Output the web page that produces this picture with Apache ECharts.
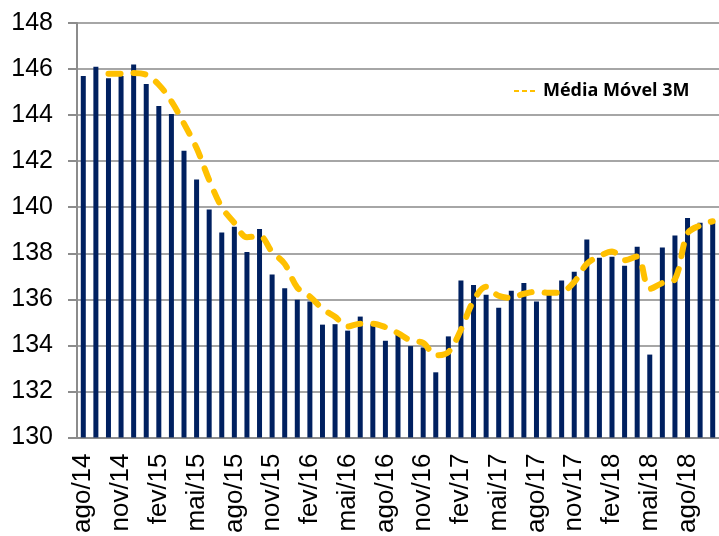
<!DOCTYPE html>
<html>
<head>
<meta charset="utf-8">
<script src="https://cdn.jsdelivr.net/npm/echarts@6/dist/echarts.min.js"></script>
<style>
html,body{margin:0;padding:0;background:#fff;}
#chart{width:719px;height:536px;}
</style>
</head>
<body>
<div id="chart"></div>
<script>
const categories = [
  'ago/14','set/14','out/14','nov/14','dez/14',
  'jan/15','fev/15','mar/15','abr/15','mai/15','jun/15','jul/15','ago/15','set/15','out/15','nov/15','dez/15',
  'jan/16','fev/16','mar/16','abr/16','mai/16','jun/16','jul/16','ago/16','set/16','out/16','nov/16','dez/16',
  'jan/17','fev/17','mar/17','abr/17','mai/17','jun/17','jul/17','ago/17','set/17','out/17','nov/17','dez/17',
  'jan/18','fev/18','mar/18','abr/18','mai/18','jun/18','jul/18','ago/18','set/18','out/18'
];
const indexValues = [
  145.7,146.1,145.6,145.7,146.2,
  145.35,144.4,144.05,142.45,141.2,139.9,138.9,139.15,138.05,139.05,137.08,136.48,
  135.98,135.9,134.9,134.92,134.64,135.25,134.92,134.2,134.46,133.97,133.91,132.83,
  134.39,136.82,136.62,136.2,135.63,136.37,136.71,135.9,136.23,136.82,137.2,138.6,
  137.8,137.85,137.46,138.28,133.6,138.25,138.77,139.53,139.32,139.33
];
const movingAvg3M = [
  null,null,145.8,145.8,145.83,
  145.75,145.32,144.6,143.63,142.57,141.18,140.0,139.32,138.7,138.75,138.06,137.54,
  136.51,136.12,135.59,135.24,134.82,134.94,134.94,134.79,134.53,134.21,134.11,133.57,
  133.71,134.68,135.94,136.55,136.15,136.07,136.24,136.33,136.28,136.32,136.75,137.54,
  137.87,138.08,137.7,137.86,136.45,136.71,136.87,138.85,139.21,139.39
];
const yMin = 130, yMax = 148, yStep = 2;
const seriesNames = ['Índice', 'Média Móvel 3M'];

const chart = echarts.init(document.getElementById('chart'), null, {renderer: 'canvas'});
chart.setOption({
  animation: false,
  backgroundColor: '#ffffff',
  grid: {left: 77, right: -4, top: 23, bottom: 97, containLabel: false},
  legend: {
    data: [seriesNames[1]],
    left: 513, top: 82,
    padding: 0,
    itemWidth: 24, itemHeight: 14,
    textStyle: {fontFamily: 'Open Sans', fontWeight: 'bold', fontSize: 18, color: '#000'},
    itemStyle: {opacity: 0, borderWidth: 0},
    lineStyle: {width: 2, type: [5, 3], color: '#FFC000', cap: 'butt'}
  },
  xAxis: {
    type: 'category',
    data: categories,
    boundaryGap: true,
    axisLine: {lineStyle: {color: '#8c8c8c', width: 2}},
    axisTick: {interval: 2, length: 8, lineStyle: {color: '#8c8c8c', width: 2}},
    axisLabel: {
      interval: 2, rotate: 90, margin: 16,
      fontFamily: 'Liberation Sans', fontSize: 26, color: '#000',
      hideOverlap: false
    }
  },
  yAxis: {
    type: 'value',
    min: yMin, max: yMax, interval: yStep,
    axisLine: {show: true, lineStyle: {color: '#8c8c8c', width: 2}},
    axisTick: {show: true, length: 9, lineStyle: {color: '#8c8c8c', width: 2}},
    splitLine: {show: true, lineStyle: {color: '#a6a6a6', width: 2}},
    axisLabel: {margin: 24, fontFamily: 'Liberation Sans', fontSize: 25, color: '#000'}
  },
  series: [
    {
      name: seriesNames[0],
      type: 'bar',
      data: indexValues,
      barWidth: 5,
      itemStyle: {color: '#002060'},
      z: 2
    },
    {
      name: seriesNames[1],
      type: 'line',
      data: movingAvg3M,
      smooth: 0.35,
      showSymbol: false,
      symbol: 'none',
      lineStyle: {color: '#FFC000', width: 6, type: [12, 13], cap: 'round', join: 'round'},
      itemStyle: {color: '#FFC000'},
      z: 3
    }
  ]
});
</script>
</body>
</html>
